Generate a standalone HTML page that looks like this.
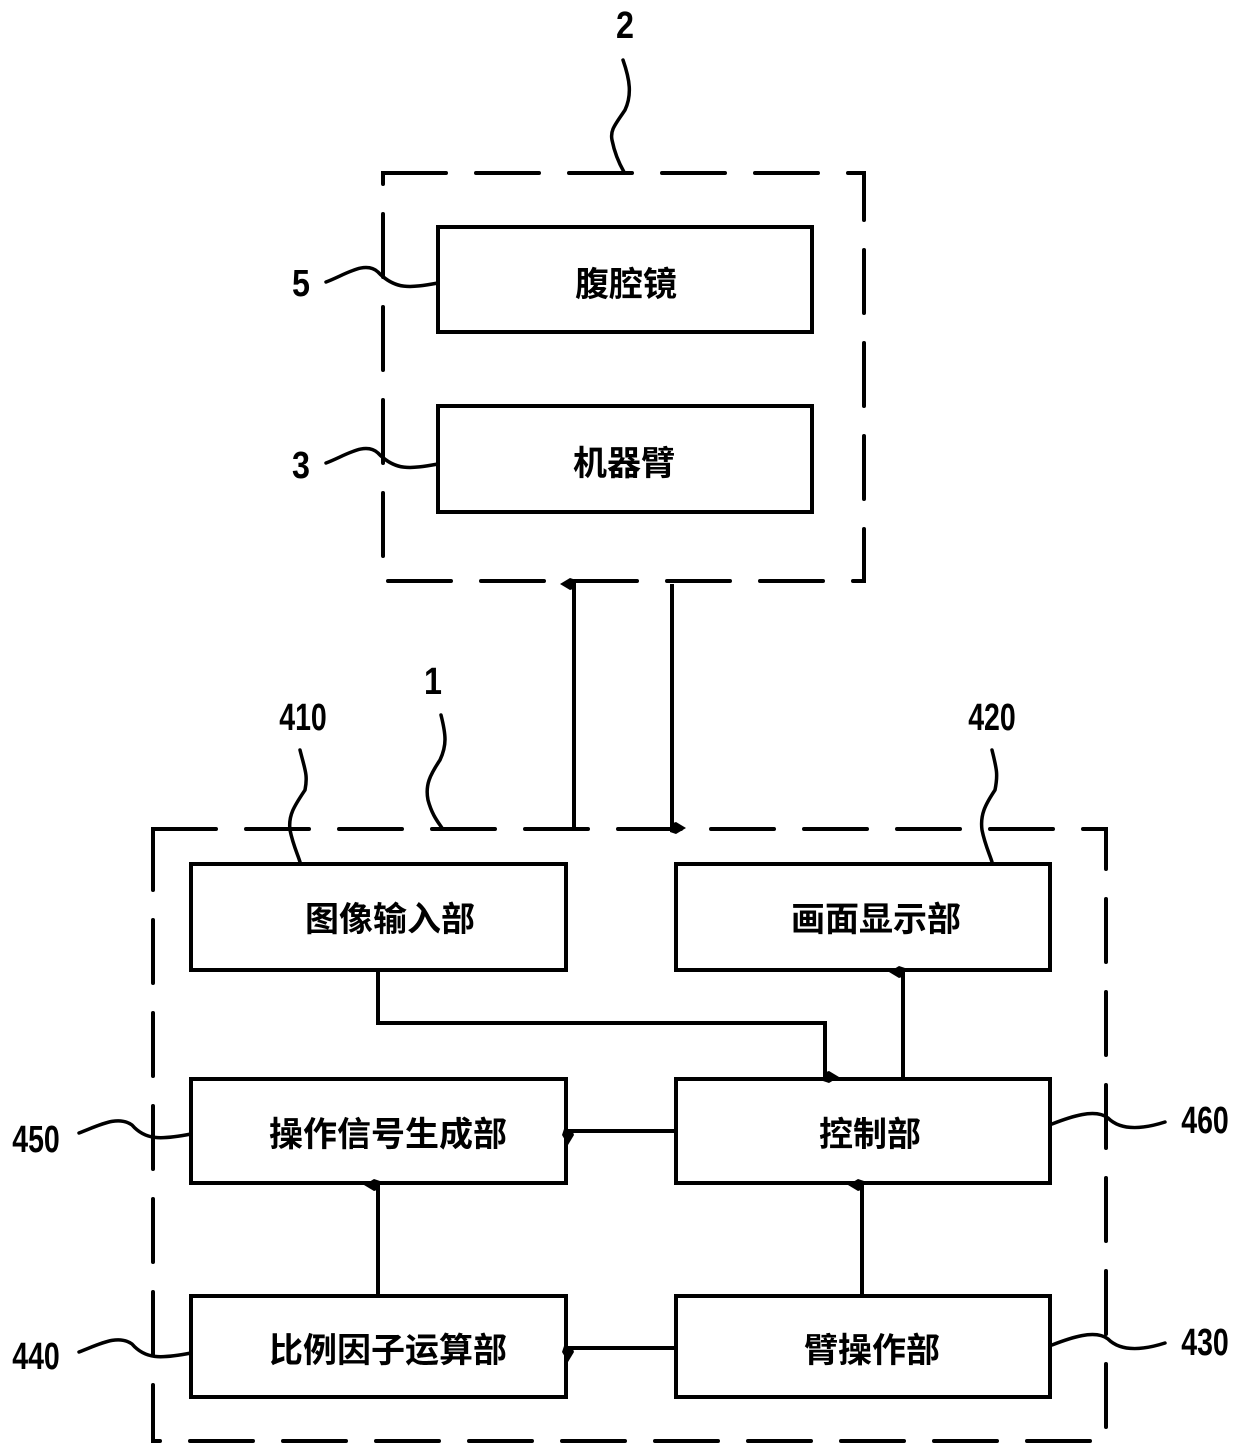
<!DOCTYPE html>
<html><head><meta charset="utf-8"><style>
html,body{margin:0;padding:0;background:#fff}
svg{display:block}
.n{font-family:"Liberation Sans",sans-serif;font-weight:bold;font-size:38px;fill:#000}
.t{font-family:"Liberation Sans","Noto Sans CJK SC",sans-serif;font-weight:bold;font-size:34px;fill:#000}
</style></head><body>
<svg width="1240" height="1451" viewBox="0 0 1240 1451" xmlns="http://www.w3.org/2000/svg">
<defs>
<marker id="a" markerWidth="14" markerHeight="16" refX="7" refY="14" orient="auto-start-reverse" markerUnits="userSpaceOnUse" viewBox="0 0 14 16">
<path d="M7 0 L13 10 L11 16 L3 16 L1 10 Z" fill="#000"/></marker>
</defs>
<g fill="none" stroke="#000" stroke-width="4" stroke-linecap="round">
<rect x="383" y="173" width="481" height="408" stroke-dasharray="63 30"/>
<rect x="153" y="829" width="953" height="612" stroke-dasharray="63 30"/>
</g>
<g fill="none" stroke="#000" stroke-width="4">
<rect x="438" y="227" width="374" height="105"/>
<rect x="438" y="406" width="374" height="106"/>
<rect x="191" y="864" width="375" height="106"/>
<rect x="676" y="864" width="374" height="106"/>
<rect x="191" y="1079" width="375" height="104"/>
<rect x="676" y="1079" width="374" height="104"/>
<rect x="191" y="1296" width="375" height="101"/>
<rect x="676" y="1296" width="374" height="101"/>
</g>
<g fill="none" stroke="#000" stroke-width="4">
<line x1="574" y1="828" x2="574" y2="584" marker-end="url(#a)"/>
<line x1="672" y1="584" x2="672" y2="828" marker-end="url(#a)"/>
<polyline points="378,970 378,1023 825,1023 825,1077" marker-end="url(#a)"/>
<line x1="903" y1="1079" x2="903" y2="972" marker-end="url(#a)"/>
<line x1="676" y1="1131" x2="568" y2="1131" marker-end="url(#a)"/>
<line x1="378" y1="1296" x2="378" y2="1185" marker-end="url(#a)"/>
<line x1="862" y1="1296" x2="862" y2="1185" marker-end="url(#a)"/>
<line x1="676" y1="1348" x2="568" y2="1348" marker-end="url(#a)"/>
</g>
<g fill="none" stroke="#000" stroke-width="3.5" stroke-linecap="round">
<path d="M623 60 C630 80 632 95 625 110 C615 125 610 130 612 140 C615 155 620 165 624 172"/>
<path d="M326 282 C345 275 365 260 378 272 C395 290 410 288 438 283"/>
<path d="M326 463 C345 456 365 441 378 453 C395 471 410 469 438 464"/>
<path d="M300 750 C305 770 308 775 305 790 C295 805 288 815 290 830 C293 845 298 855 300 862"/>
<path d="M441 715 C446 735 447 745 440 760 C430 775 425 785 428 800 C432 815 438 822 442 828"/>
<path d="M992 750 C997 770 998 775 995 790 C985 805 980 815 982 830 C985 845 990 855 992 862"/>
<path d="M79 1133 C100 1125 118 1115 132 1125 C145 1140 160 1140 191 1134"/>
<path d="M79 1352 C100 1344 118 1334 132 1344 C145 1359 160 1359 191 1353"/>
<path d="M1052 1124 C1070 1117 1095 1108 1108 1118 C1120 1130 1140 1130 1165 1122"/>
<path d="M1052 1345 C1070 1338 1095 1329 1108 1339 C1120 1351 1140 1351 1165 1343"/>
</g>
<g class="n" text-anchor="middle">
<text x="625" y="38" transform="translate(625 0) scale(0.85 1) translate(-625 0)">2</text>
<text x="301" y="296" transform="translate(301 0) scale(0.85 1) translate(-301 0)">5</text>
<text x="301" y="478" transform="translate(301 0) scale(0.85 1) translate(-301 0)">3</text>
<text x="303" y="730" transform="translate(303 0) scale(0.75 1) translate(-303 0)">410</text>
<text x="433" y="694" transform="translate(433 0) scale(0.85 1) translate(-433 0)">1</text>
<text x="992" y="730" transform="translate(992 0) scale(0.75 1) translate(-992 0)">420</text>
<text x="36" y="1152" transform="translate(36 0) scale(0.75 1) translate(-36 0)">450</text>
<text x="1205" y="1133" transform="translate(1205 0) scale(0.75 1) translate(-1205 0)">460</text>
<text x="36" y="1369" transform="translate(36 0) scale(0.75 1) translate(-36 0)">440</text>
<text x="1205" y="1355" transform="translate(1205 0) scale(0.75 1) translate(-1205 0)">430</text>
</g>
<g class="t" text-anchor="middle">
<text x="626" y="296">腹腔镜</text>
<text x="624" y="475">机器臂</text>
<text x="390" y="931">图像输入部</text>
<text x="876" y="931">画面显示部</text>
<text x="388" y="1146">操作信号生成部</text>
<text x="870" y="1146">控制部</text>
<text x="388" y="1362">比例因子运算部</text>
<text x="872" y="1362">臂操作部</text>
</g>
</svg>
</body></html>
